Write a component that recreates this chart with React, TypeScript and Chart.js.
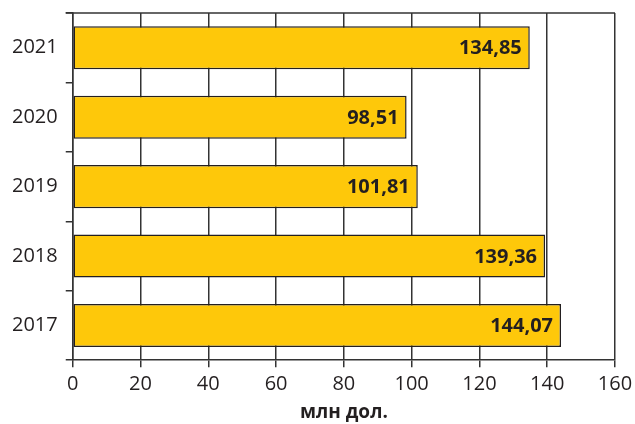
import React, { useEffect, useRef } from "react";
import { Chart, registerables } from "chart.js";

Chart.register(...registerables);

const categories = ["2021", "2020", "2019", "2018", "2017"];
const values = [134.85, 98.51, 101.81, 139.36, 144.07];
const axisTitle = "млн дол.";
const xMin = 0;
const xMax = 160;
const xStep = 20;

const fmt = (v: number) => v.toFixed(2).replace(".", ",");

const valueLabels = {
  id: "valueLabels",
  afterDatasetsDraw(chart: any) {
    const ctx = chart.ctx;
    const meta = chart.getDatasetMeta(0);
    ctx.save();
    ctx.font = "bold 20px 'Open Sans'";
    ctx.fillStyle = "#231f20";
    ctx.textAlign = "right";
    ctx.textBaseline = "middle";
    meta.data.forEach((bar: any, i: number) => {
      ctx.fillText(fmt(values[i]), bar.x - 8, bar.y + 1);
    });
    ctx.restore();
  },
};

const topBorder = {
  id: "topBorder",
  beforeDatasetsDraw(chart: any) {
    const { ctx, chartArea } = chart;
    ctx.save();
    ctx.strokeStyle = "#333";
    ctx.lineWidth = 1.5;
    ctx.beginPath();
    ctx.moveTo(chartArea.left - 7, chartArea.top);
    ctx.lineTo(chartArea.right, chartArea.top);
    ctx.stroke();
    ctx.restore();
  },
};

export default function App() {
  const ref = useRef<HTMLCanvasElement>(null);
  useEffect(() => {
    const chart = new Chart(ref.current!, {
      type: "bar",
      data: {
        labels: categories,
        datasets: [
          {
            data: values,
            backgroundColor: "#fec80a",
            borderColor: "#231f20",
            borderWidth: 1.5,
            borderSkipped: false,
            categoryPercentage: 1,
            barPercentage: 0.62,
          },
        ],
      },
      options: {
        indexAxis: "y",
        animation: false,
        responsive: false,
        devicePixelRatio: 1,
        layout: { padding: { left: 4, right: 20, top: 13, bottom: 0 } },
        plugins: { legend: { display: false }, tooltip: { enabled: false } },
        scales: {
          x: {
            min: xMin,
            max: xMax,
            afterFit: (scale: any) => {
              scale.paddingRight = 0;
              scale.paddingLeft = 0;
            },
            ticks: {
              stepSize: xStep,
              color: "#231f20",
              font: { family: "'Open Sans'", size: 20, lineHeight: 1 },
              padding: 7,
            },
            grid: { color: "#333", lineWidth: 1.5, tickLength: 7 },
            border: { display: true, color: "#333", width: 1.5 },
            title: {
              display: true,
              text: axisTitle,
              color: "#231f20",
              font: { family: "'Open Sans'", size: 19, weight: "bold" },
              padding: { top: 0, bottom: 0 },
            },
          },
          y: {
            afterFit: (scale: any) => {
              scale.paddingTop = 0;
              scale.paddingBottom = 0;
            },
            ticks: {
              color: "#231f20",
              font: { family: "'Open Sans'", size: 20 },
              padding: 8,
            },
            grid: {
              display: true,
              drawOnChartArea: false,
              color: "#333",
              lineWidth: 1.5,
              tickLength: 7,
            },
            border: { display: true, color: "#333", width: 1.5 },
          },
        },
      },
      plugins: [topBorder, valueLabels],
    });
    return () => chart.destroy();
  }, []);
  return (
    <div style={{ position: "fixed", left: 0, top: 0, width: 635, height: 424, background: "#fff" }}>
      <canvas ref={ref} width={635} height={424} />
    </div>
  );
}
